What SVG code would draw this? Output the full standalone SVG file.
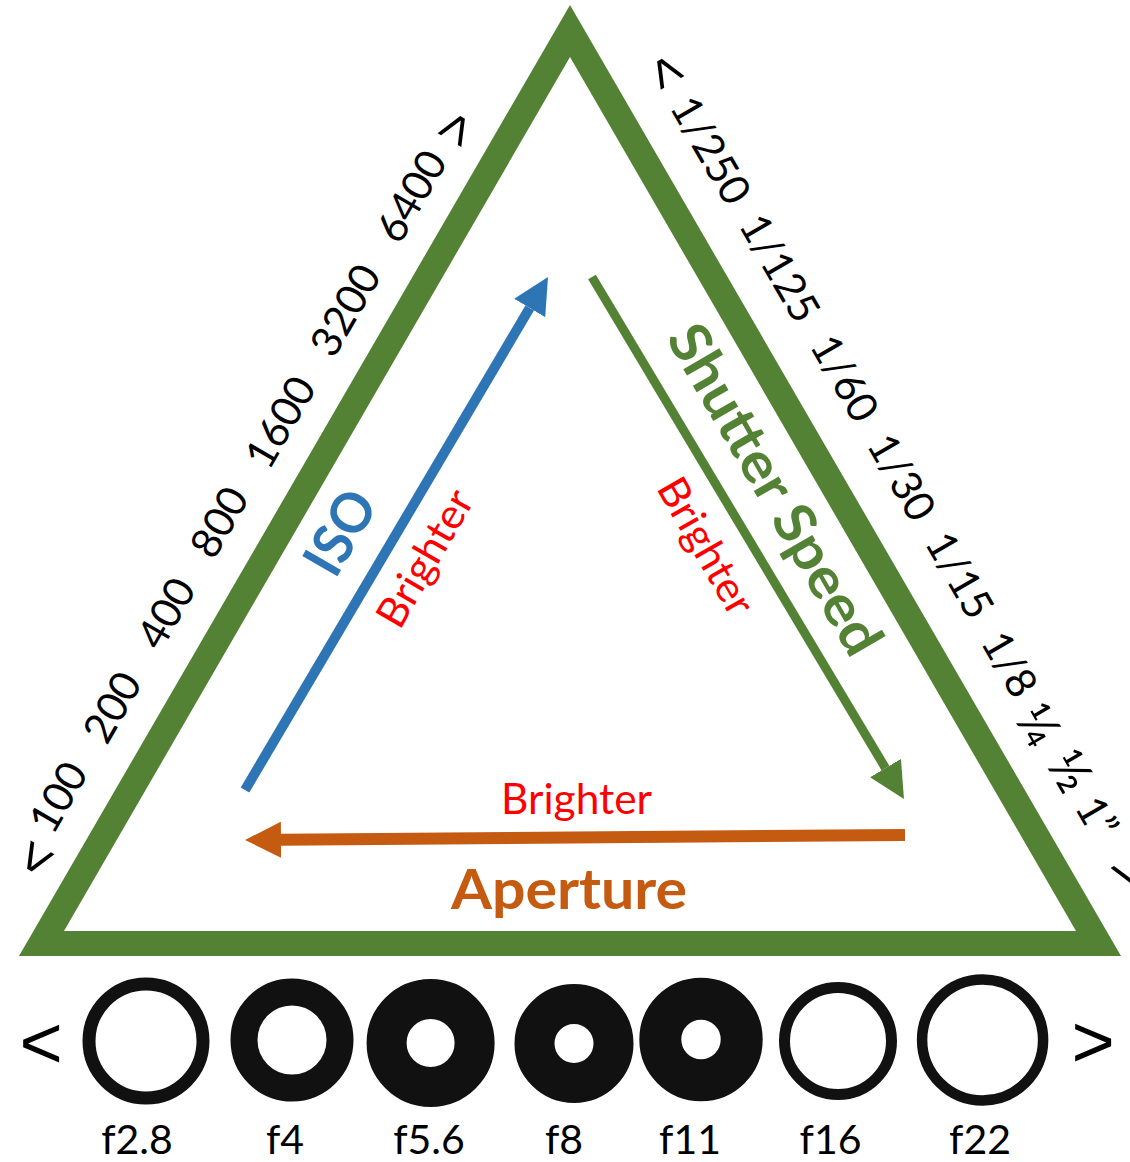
<svg xmlns="http://www.w3.org/2000/svg" width="1130" height="1162" viewBox="0 0 1130 1162">
<style>
.num{font-family:Lato,"Liberation Sans",sans-serif;font-size:42px;fill:#000;text-anchor:middle}
.frac{font-family:Lato,"Liberation Sans",sans-serif;font-size:52px;fill:#000;text-anchor:middle}
.sym{font-family:"Liberation Sans",Arial,sans-serif;font-size:54px;fill:#000;text-anchor:middle}
.bsym{font-family:"Liberation Sans",Arial,sans-serif;font-size:74px;fill:#000;text-anchor:middle}
.big{font-family:Lato,"Liberation Sans",sans-serif;font-size:56px;font-weight:bold;text-anchor:middle}
.red{font-family:Lato,"Liberation Sans",sans-serif;font-size:42px;fill:#FF0000;text-anchor:middle}
.fl{font-family:Lato,"Liberation Sans",sans-serif;font-size:41px;fill:#000;text-anchor:middle}
.ring{fill:none;stroke:#111}
</style>
<defs>
<marker id="hb" viewBox="0 0 36 36" markerWidth="36" markerHeight="36" markerUnits="userSpaceOnUse" refX="0" refY="18" orient="auto"><path d="M0,0 L36,18 L0,36 z" fill="#2E75B6"/></marker>
<marker id="hg" viewBox="0 0 36 36" markerWidth="36" markerHeight="36" markerUnits="userSpaceOnUse" refX="0" refY="18" orient="auto"><path d="M0,0 L36,18 L0,36 z" fill="#548235"/></marker>
<marker id="ho" viewBox="0 0 36 36" markerWidth="36" markerHeight="36" markerUnits="userSpaceOnUse" refX="0" refY="18" orient="auto"><path d="M0,0 L36,18 L0,36 z" fill="#C55A11"/></marker>
</defs>
<rect width="1130" height="1162" fill="#fff"/>
<g id="triangle">
<path d="M570,5 L1121,956 L19,956 Z M570,57 L64,931 L1076,931 Z" fill="#548235" fill-rule="evenodd"/>
</g>
<g id="connectors">
<line x1="245" y1="790" x2="529.7" y2="308" stroke="#2E75B6" stroke-width="10" marker-end="url(#hb)"/>
<line x1="592" y1="277" x2="885.5" y2="768.1" stroke="#548235" stroke-width="9" marker-end="url(#hg)"/>
<line x1="905" y1="835" x2="281" y2="839.7" stroke="#C55A11" stroke-width="12" marker-end="url(#ho)"/>
</g>
<g id="iso-label">
<text class="big" fill="#2E75B6" textLength="88" lengthAdjust="spacingAndGlyphs" transform="translate(340,532) rotate(-60)" y="20">ISO</text>
<text class="red" textLength="151" lengthAdjust="spacingAndGlyphs" transform="translate(428,560) rotate(-60)" y="11">Brighter</text>
</g>
<g id="shutter-label">
<text class="big" fill="#548235" textLength="372" lengthAdjust="spacingAndGlyphs" transform="translate(774,490) rotate(60)" y="18">Shutter Speed</text>
<text class="red" textLength="151" lengthAdjust="spacingAndGlyphs" transform="translate(703,548) rotate(60)" y="11">Brighter</text>
</g>
<g id="aperture-label">
<text class="red" x="576.5" y="814" textLength="151" lengthAdjust="spacingAndGlyphs">Brighter</text>
<text class="big" fill="#C55A11" x="569" y="909" textLength="236" lengthAdjust="spacingAndGlyphs">Aperture</text>
</g>
<g id="iso-scale">
<text class="sym" transform="translate(35,858) rotate(-60)" y="19">&lt;</text>
<text class="num" transform="translate(58,797) rotate(-60)" y="15">100</text>
<text class="num" transform="translate(112,707) rotate(-60)" y="15">200</text>
<text class="num" transform="translate(166,613) rotate(-60)" y="15">400</text>
<text class="num" transform="translate(219,522) rotate(-60)" y="15">800</text>
<text class="num" transform="translate(280,422) rotate(-60)" y="15">1600</text>
<text class="num" transform="translate(345,310) rotate(-60)" y="15">3200</text>
<text class="num" transform="translate(411,196) rotate(-60)" y="15">6400</text>
<text class="sym" transform="translate(455,128) rotate(-60)" y="19">&gt;</text>
</g>
<g id="shutter-scale">
<text class="sym" transform="translate(667,71) rotate(60)" y="19">&lt;</text>
<text class="num" transform="translate(711,150) rotate(60)" y="15">1/250</text>
<text class="num" transform="translate(780,268) rotate(60)" y="15">1/125</text>
<text class="num" transform="translate(845,378) rotate(60)" y="15">1/60</text>
<text class="num" transform="translate(902,477) rotate(60)" y="15">1/30</text>
<text class="num" transform="translate(960,575) rotate(60)" y="15">1/15</text>
<text class="num" transform="translate(1010,664) rotate(60)" y="15">1/8</text>
<text class="frac" transform="translate(1038,725) rotate(60)" y="18">¼</text>
<text class="frac" transform="translate(1070,771) rotate(60)" y="18">½</text>
<text class="num" transform="translate(1097,817) rotate(60)" y="15">1”</text>
<text class="sym" transform="translate(1130,872) rotate(60)" y="19">&gt;</text>
</g>
<g id="aperture-scale">
<text class="bsym" x="41" y="1068">&lt;</text>
<text class="bsym" x="1093" y="1067">&gt;</text>
<g id="f2-8"><circle class="ring" cx="146" cy="1041" r="57" stroke-width="13"/><text class="fl" x="137" y="1154">f2.8</text></g>
<g id="f4"><circle class="ring" cx="292" cy="1040" r="48" stroke-width="27"/><text class="fl" x="285" y="1154">f4</text></g>
<g id="f5-6"><circle class="ring" cx="430.6" cy="1043" r="44" stroke-width="40"/><text class="fl" x="429" y="1154">f5.6</text></g>
<g id="f8"><circle class="ring" cx="574" cy="1043.5" r="39.5" stroke-width="40"/><text class="fl" x="564" y="1154">f8</text></g>
<g id="f11"><circle class="ring" cx="701" cy="1039.5" r="40.7" stroke-width="42"/><text class="fl" x="690" y="1154">f11</text></g>
<g id="f16"><circle class="ring" cx="838" cy="1041" r="53.5" stroke-width="11"/><text class="fl" x="830.5" y="1154">f16</text></g>
<g id="f22"><circle class="ring" cx="982.6" cy="1040" r="60.5" stroke-width="10.5"/><text class="fl" x="980" y="1154">f22</text></g>
</g>
</svg>
